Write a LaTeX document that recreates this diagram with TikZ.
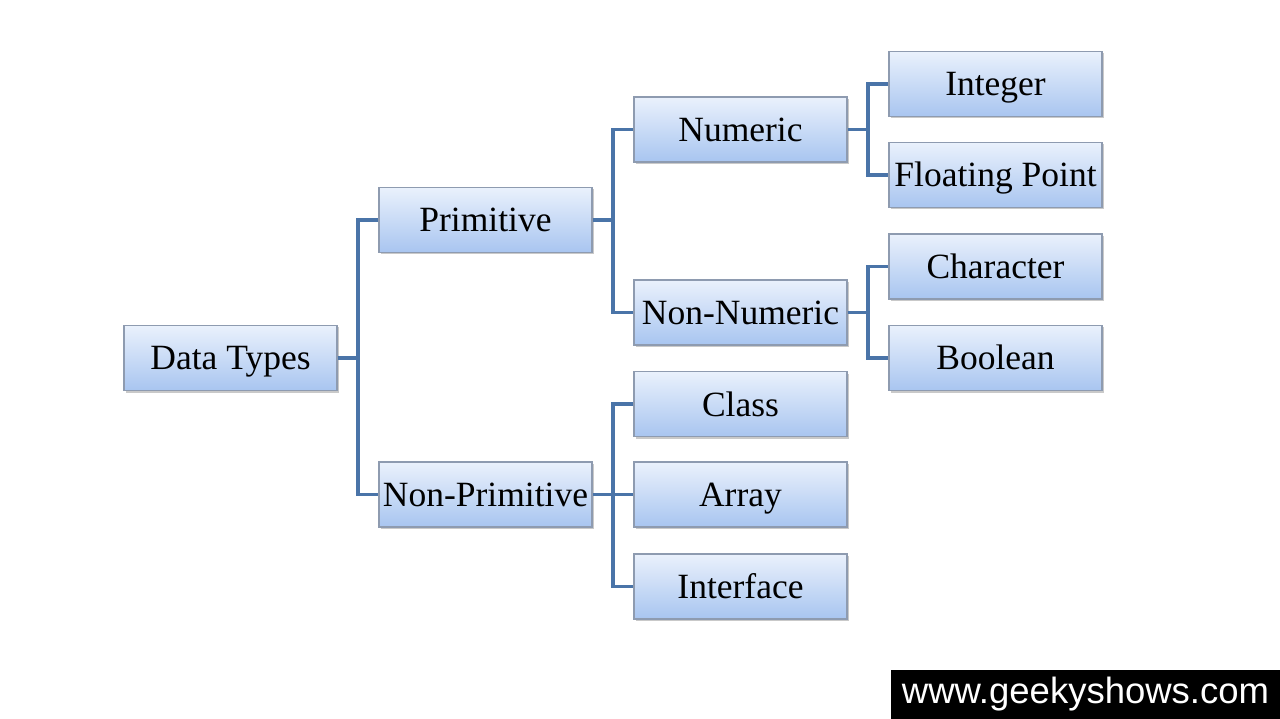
\documentclass[tikz,border=0pt]{standalone}
\usepackage{fontspec}
\setmainfont{Liberation Serif}
\newfontfamily\wmfont{Liberation Sans}
\usetikzlibrary{shadows}
\definecolor{linkblue}{HTML}{4A74A8}
\definecolor{boxtop}{HTML}{EAF1FC}
\definecolor{boxbot}{HTML}{A8C5F0}
\definecolor{boxline}{HTML}{8E9BB0}
\tikzset{
  dtbox/.style={draw=boxline, line width=1.2pt, top color=boxtop, bottom color=boxbot,
    minimum width=213pt, minimum height=65pt, inner sep=0pt, anchor=center,
    text height=24pt, text depth=0pt,
    font=\fontsize{35.5}{40}\selectfont,
    drop shadow={shadow xshift=2pt, shadow yshift=-2pt, fill=black!35, opacity=0.6}},
  link/.style={draw=linkblue, line width=3.3pt}
}
\begin{document}
\begin{tikzpicture}[x=1pt,y=-1pt]
\useasboundingbox (0,0) rectangle (1280,719);
\fill[white] (0,0) rectangle (1280,719);
% junction points
\coordinate (j1) at (358,358);
\coordinate (j2) at (613,220);
\coordinate (j3) at (613,494.5);
\coordinate (j4) at (868,129.5);
\coordinate (j5) at (868,312.5);
\node[dtbox] (dt) at (230.5,358) {Data Types};
\node[dtbox] (prim) at (485.5,220) {Primitive};
\node[dtbox] (nprim) at (485.5,494.5) {Non-Primitive};
\node[dtbox] (num) at (740.5,129.5) {Numeric};
\node[dtbox] (nnum) at (740.5,312.5) {Non-Numeric};
\node[dtbox] (cls) at (740.5,404) {Class};
\node[dtbox] (arr) at (740.5,494.5) {Array};
\node[dtbox] (intf) at (740.5,586.5) {Interface};
\node[dtbox] (int) at (995.5,84) {Integer};
\node[dtbox] (flt) at (995.5,175) {Floating Point};
\node[dtbox] (chr) at (995.5,266.5) {Character};
\node[dtbox] (bool) at (995.5,358) {Boolean};
\draw[link] (dt.east) -- (j1);
\draw[link] (prim.west) -| (j1) |- (nprim.west);
\draw[link] (prim.east) -- (j2);
\draw[link] (num.west) -| (j2) |- (nnum.west);
\draw[link] (nprim.east) -- (arr.west);
\draw[link] (cls.west) -| (j3) |- (intf.west);
\draw[link] (num.east) -- (j4);
\draw[link] (int.west) -| (j4) |- (flt.west);
\draw[link] (nnum.east) -- (j5);
\draw[link] (chr.west) -| (j5) |- (bool.west);
% watermark
\node[fill=black, text=white, minimum width=389pt, minimum height=49pt, inner sep=0pt,
  font=\wmfont\fontsize{36.5}{40}\selectfont] (wm) at (1085.5,694.5) {www.geekyshows.com};
\end{tikzpicture}
\end{document}
